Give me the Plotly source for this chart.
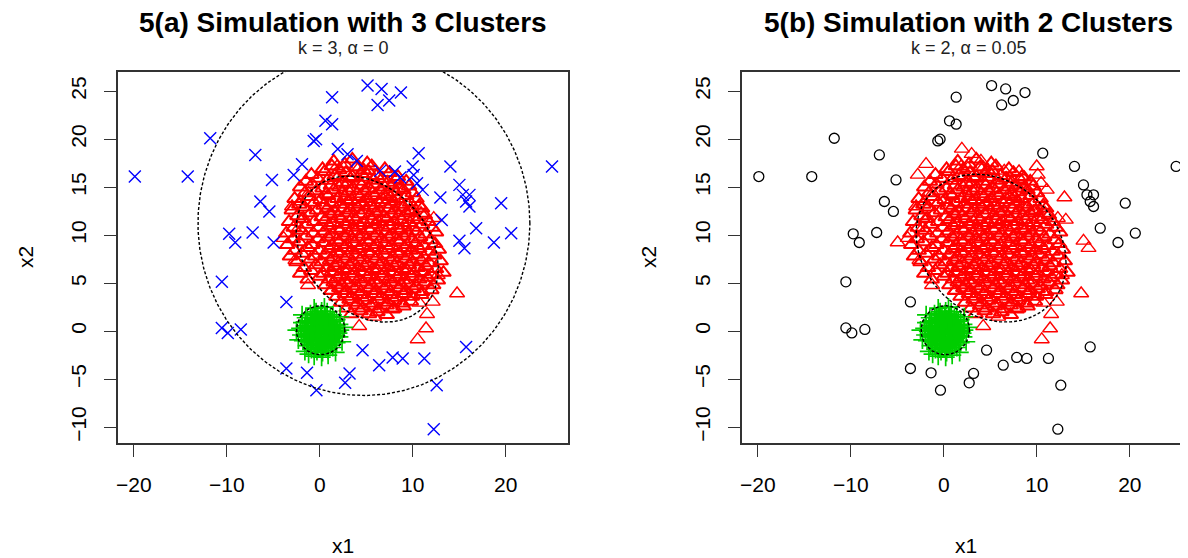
import numpy as np
import plotly.graph_objects as go

# ---------------- data ----------------
# points of cluster 3 in (a) that are trimmed (black circles) in (b)
out_x = [-19.89, -14.20, -11.78, -6.93, -5.14, -6.39, -5.42, -9.74, -9.09, -7.22,
         -0.65, -0.40, 0.61, 1.33, 1.33, 5.14, 6.65, 6.22, 7.47, 8.73,
         10.64, 14.05, 15.02, 15.39, 16.10, 15.74, 16.10, 16.82, 19.51, 20.59,
         18.73, 24.98, -10.53, -3.59, -10.53, -9.89, -8.49, -3.59, -1.37, -0.36,
         2.73, 3.20, 4.60, 6.39, 7.84, 8.92, 11.25, 15.74, 12.58, 12.26]
out_y = [16.11, 16.11, 20.10, 18.36, 15.76, 13.51, 12.47, 10.14, 9.24, 10.28,
         19.82, 20.00, 21.91, 21.56, 24.38, 25.59, 25.24, 23.57, 24.03, 24.86,
         18.54, 17.16, 15.24, 14.20, 14.20, 13.51, 12.99, 10.73, 13.33, 10.21,
         9.24, 17.16, 5.14, 3.05, 0.34, -0.18, 0.18, -3.89, -4.34, -6.15,
         -5.38, -4.40, -1.98, -3.54, -2.74, -2.84, -2.84, -1.64, -5.63, -10.21]

# points of cluster 3 in (a) that join the red cluster in (b)
near_x = [-4.96, -2.80, -1.91, 1.94, 2.99, 3.99, 6.50, 8.09, 8.66, 9.99,
          10.10, 10.46, 11.07, 12.97, 13.12, 15.02, 15.56]
near_y = [9.24, 16.28, 17.40, 18.99, 18.44, 17.74, 16.70, 16.64, 16.01, 17.16,
          16.28, 15.42, 14.72, 13.93, 11.59, 9.41, 8.65]

# red cluster: dense core
red_x = [1.5, 2.7, 3.5, 5.1,
         0.3, 1.3, 2.1, 3.9, 4.7, 5.6, 7.0,
         -0.9, 0.5, 1.6, 2.8, 3.5, 4.5, 5.2, 6.1, 7.5, 8.4,
         -1.5, -0.2, 0.8, 1.9, 2.4, 3.3, 4.2, 4.8, 5.8, 6.7, 7.3, 8.2, 9.3,
         -2.1, -0.8, 0.3, 1.2, 2.1, 2.9, 3.6, 4.5, 5.3, 6.0, 7.0, 7.8, 8.6, 9.6,
         -1.6, -0.4, 0.7, 1.5, 2.4, 3.1, 4.0, 4.8, 5.7, 6.5, 7.3, 8.1, 9.0, 10.0,
         -2.7, -1.2, 0.1, 0.9, 1.9, 2.7, 3.4, 4.3, 5.1, 5.9, 6.8, 7.6, 8.4, 9.3, 10.4,
         -2.2, -0.6, 0.4, 1.3, 2.2, 3.0, 3.8, 4.6, 5.5, 6.3, 7.0, 7.9, 8.8, 9.7, 10.7,
         -3.0, -1.7, -0.3, 0.8, 1.6, 2.5, 3.3, 4.1, 4.9, 5.8, 6.5, 7.4, 8.1, 9.0, 9.9, 11.0,
         -2.4, -1.0, 0.2, 1.1, 2.0, 2.9, 3.6, 4.4, 5.3, 6.0, 6.9, 7.7, 8.5, 9.3, 10.2, 11.3,
         -3.3, -1.9, -0.6, 0.6, 1.5, 2.3, 3.2, 3.9, 4.8, 5.6, 6.3, 7.2, 8.0, 8.8, 9.7, 10.5, 11.7,
         -2.8, -1.4, -0.1, 1.0, 1.9, 2.7, 3.6, 4.3, 5.2, 5.9, 6.8, 7.5, 8.4, 9.1, 10.0, 11.0, 12.1,
         -3.6, -2.0, -0.7, 0.5, 1.4, 2.2, 3.1, 3.8, 4.7, 5.4, 6.2, 7.1, 7.8, 8.7, 9.5, 10.4, 11.4, 12.5,
         -2.9, -1.5, -0.2, 0.9, 1.8, 2.6, 3.5, 4.2, 5.0, 5.9, 6.6, 7.4, 8.3, 9.0, 9.9, 10.8, 11.9,
         -3.5, -2.2, -0.8, 0.4, 1.3, 2.1, 2.9, 3.7, 4.6, 5.3, 6.1, 7.0, 7.7, 8.6, 9.4, 10.3, 11.2, 12.4,
         -2.7, -1.3, 0.0, 1.0, 1.8, 2.7, 3.4, 4.2, 5.1, 5.8, 6.7, 7.4, 8.2, 9.1, 9.8, 10.7, 11.7, 12.8,
         -3.2, -1.9, -0.5, 0.6, 1.5, 2.2, 3.0, 3.9, 4.6, 5.5, 6.2, 7.0, 7.9, 8.6, 9.5, 10.3, 11.2, 12.3,
         -2.5, -1.0, 0.2, 1.1, 2.0, 2.7, 3.6, 4.3, 5.1, 6.0, 6.7, 7.6, 8.3, 9.2, 10.0, 10.9, 11.8, 13.0,
         -1.7, -0.4, 0.8, 1.6, 2.5, 3.2, 4.1, 4.8, 5.7, 6.4, 7.3, 8.0, 8.9, 9.6, 10.5, 11.4, 12.5,
         -2.1, -0.9, 0.4, 1.3, 2.1, 3.0, 3.7, 4.6, 5.3, 6.2, 6.9, 7.8, 8.5, 9.4, 10.1, 11.0, 12.0, 13.3,
         -1.3, 0.0, 1.0, 1.9, 2.6, 3.5, 4.2, 5.1, 5.8, 6.7, 7.4, 8.3, 9.0, 9.9, 10.7, 11.6, 12.7,
         0.6, 1.5, 2.4, 3.1, 4.0, 4.7, 5.6, 6.3, 7.2, 7.9, 8.8, 9.5, 10.4, 11.3, 12.2,
         1.2, 2.1, 2.8, 3.7, 4.4, 5.3, 6.0, 6.9, 7.6, 8.5, 9.2, 10.1, 11.0, 12.0,
         1.8, 2.7, 3.4, 4.3, 5.0, 5.9, 6.6, 7.5, 8.2, 9.1, 9.9, 10.9,
         2.3, 3.2, 4.1, 4.8, 5.7, 6.4, 7.3, 8.0, 8.9, 9.8,
         2.9, 3.9, 4.6, 5.5, 6.3, 7.2, 8.0, 9.0,
         3.4, 4.4, 5.3, 6.2, 7.2]
red_y = [17.7, 17.4, 17.9, 17.5,
         16.9, 17.2, 16.8, 17.1, 16.8, 17.2, 16.9,
         16.3, 16.6, 16.2, 16.5, 16.1, 16.4, 16.7, 16.2, 16.5, 16.1,
         15.6, 15.9, 15.7, 16.0, 15.5, 15.9, 15.6, 16.0, 15.7, 15.9, 15.5, 15.8, 15.6,
         15.0, 15.3, 14.9, 15.2, 15.0, 15.3, 14.9, 15.2, 14.9, 15.3, 15.0, 15.2, 14.9, 15.1,
         14.4, 14.6, 14.3, 14.7, 14.4, 14.6, 14.3, 14.6, 14.4, 14.7, 14.3, 14.5, 14.7, 14.4,
         13.8, 14.0, 13.7, 14.1, 13.8, 14.0, 13.7, 14.0, 13.8, 14.1, 13.7, 14.0, 13.8, 14.1, 13.8,
         13.2, 13.4, 13.1, 13.4, 13.2, 13.5, 13.2, 13.4, 13.1, 13.4, 13.2, 13.5, 13.2, 13.4, 13.1,
         12.6, 12.9, 12.6, 12.8, 12.5, 12.8, 12.6, 12.9, 12.6, 12.8, 12.5, 12.8, 12.6, 12.9, 12.6, 12.8,
         12.0, 12.3, 11.9, 12.2, 12.0, 12.3, 11.9, 12.2, 12.0, 12.3, 11.9, 12.2, 12.0, 12.3, 11.9, 12.1,
         11.4, 11.7, 11.4, 11.6, 11.3, 11.7, 11.4, 11.6, 11.3, 11.6, 11.4, 11.7, 11.4, 11.6, 11.3, 11.6, 11.4,
         10.8, 11.1, 10.8, 11.0, 10.7, 11.1, 10.8, 11.0, 10.7, 11.1, 10.8, 11.0, 10.7, 11.0, 10.8, 11.1, 10.8,
         10.2, 10.5, 10.2, 10.4, 10.1, 10.5, 10.2, 10.4, 10.1, 10.5, 10.2, 10.4, 10.1, 10.5, 10.2, 10.4, 10.1, 10.3,
         9.6, 9.9, 9.6, 9.8, 9.5, 9.9, 9.6, 9.8, 9.5, 9.9, 9.6, 9.8, 9.5, 9.9, 9.6, 9.8, 9.5,
         9.0, 9.3, 9.0, 9.2, 8.9, 9.3, 9.0, 9.2, 8.9, 9.3, 9.0, 9.2, 8.9, 9.3, 9.0, 9.2, 8.9, 9.1,
         8.4, 8.7, 8.4, 8.6, 8.3, 8.7, 8.4, 8.6, 8.3, 8.7, 8.4, 8.6, 8.3, 8.7, 8.4, 8.6, 8.3, 8.5,
         7.8, 8.1, 7.8, 8.0, 7.7, 8.1, 7.8, 8.0, 7.7, 8.1, 7.8, 8.0, 7.7, 8.1, 7.8, 8.0, 7.7, 7.9,
         7.2, 7.5, 7.2, 7.4, 7.1, 7.5, 7.2, 7.4, 7.1, 7.5, 7.2, 7.4, 7.1, 7.5, 7.2, 7.4, 7.1, 7.3,
         6.6, 6.9, 6.6, 6.8, 6.5, 6.9, 6.6, 6.8, 6.5, 6.9, 6.6, 6.8, 6.5, 6.9, 6.6, 6.8, 6.5,
         6.0, 6.3, 6.0, 6.2, 5.9, 6.3, 6.0, 6.2, 5.9, 6.3, 6.0, 6.2, 5.9, 6.3, 6.0, 6.2, 5.9, 6.1,
         5.4, 5.7, 5.4, 5.6, 5.3, 5.7, 5.4, 5.6, 5.3, 5.7, 5.4, 5.6, 5.3, 5.7, 5.4, 5.6, 5.3,
         4.8, 5.1, 4.8, 5.0, 4.7, 5.1, 4.8, 5.0, 4.7, 5.1, 4.8, 5.0, 4.7, 5.1, 4.8,
         4.2, 4.5, 4.2, 4.4, 4.1, 4.5, 4.2, 4.4, 4.1, 4.5, 4.2, 4.4, 4.1, 4.3,
         3.6, 3.9, 3.6, 3.8, 3.5, 3.9, 3.6, 3.8, 3.5, 3.9, 3.6, 3.8,
         3.0, 3.3, 3.0, 3.2, 2.9, 3.3, 3.0, 3.2, 2.9, 3.1,
         2.4, 2.7, 2.4, 2.6, 2.3, 2.7, 2.4, 2.6,
         1.8, 2.1, 1.8, 2.0, 1.7]

# red cluster: scattered members around the core
redp_x = [-3.88, -2.98, -2.08, -1.19, -1.73, -2.26, 0.97, 1.87, 2.59, -1.26,
          -2.62, 1.33, 14.77, 4.24, 5.85, 7.84, 10.71, 12.15, 11.54, 11.43,
          10.53, 12.69, 4.24, 6.93, 9.63, 10.89, 12.26]
redp_y = [9.69, 12.99, 13.51, 14.38, 11.77, 10.73, 15.94, 17.16, 16.98, 4.79,
          7.40, 4.27, 3.93, 0.52, 1.49, 2.26, 2.95, 3.05, 1.77, 0.28,
          -0.86, 5.83, 17.05, 14.20, 12.47, 12.29, 11.77]

# green cluster (around the origin)
green_x = [0.1, 0.4, -0.3, 0.2, -0.2,
           0.7, 0.5, 0.0, -0.5, -0.6, -0.4, 0.1, 0.6,
           1.1, 0.9, 0.5, -0.1, -0.6, -1.0, -1.0, -0.7, -0.2, 0.4, 0.9, 1.2,
           1.5, 1.4, 1.1, 0.6, 0.1, -0.5, -0.9, -1.3, -1.4, -1.3, -1.0, -0.5, 0.1, 0.7, 1.1, 1.4,
           1.9, 1.8, 1.55, 1.15, 0.65, 0.1, -0.45, -0.95, -1.35, -1.6, -1.7, -1.6, -1.35, -0.95,
           -0.45, 0.1, 0.65, 1.15, 1.55, 1.8,
           2.2, 2.1, 1.8, 1.4, 0.8, 0.2, -0.4, -1.0, -1.5, -1.9, -2.1, -2.0, -1.8, -1.4, -0.9,
           -0.3, 0.3, 0.9, 1.4, 1.8, 2.1, 2.0,
           -2.5, -2.3, -1.6, -0.6, 0.2, 0.9, 1.7, 2.4, 2.6, 2.2, 0.5, -0.6, -1.9, -1.2,
           0.85, 0.3, -0.35, -0.8, -0.75, -0.2, 0.45, 0.85,
           1.25, 0.85, 0.3, -0.3, -0.85, -1.2, -1.15, -0.8, -0.15, 0.55, 1.1, 1.3,
           1.65, 1.3, 0.8, -0.2, -0.75, -1.5, -1.55, -1.2, -0.2, 0.45, 1.3, 1.7]
green_y = [0.0, 0.3, 0.2, -0.4, -0.3,
           0.1, 0.6, 0.7, 0.5, -0.1, -0.6, -0.7, -0.4,
           0.2, 0.7, 1.0, 1.1, 0.9, 0.4, -0.3, -0.8, -1.1, -1.0, -0.7, -0.2,
           0.0, 0.6, 1.0, 1.4, 1.5, 1.4, 1.1, 0.6, 0.0, -0.6, -1.1, -1.4, -1.5, -1.3, -1.0, -0.5,
           0.0, 0.55, 1.05, 1.45, 1.7, 1.8, 1.7, 1.45, 1.05, 0.55, 0.0, -0.55, -1.05, -1.45,
           -1.7, -1.8, -1.7, -1.45, -1.05, -0.55,
           0.1, 0.7, 1.2, 1.7, 2.0, 2.1, 2.0, 1.8, 1.4, 0.9, 0.3, -0.4, -1.0, -1.5, -1.9,
           -2.1, -2.2, -2.0, -1.7, -1.2, -0.6, -0.2,
           0.1, -0.9, -2.1, -2.6, -2.7, -2.5, -2.2, -1.1, 0.4, 1.5, 2.5, 2.4, 1.7, -2.4,
           0.45, 0.85, 0.8, 0.25, -0.45, -0.85, -0.8, -0.2,
           0.45, 0.95, 1.25, 1.25, 0.85, 0.25, -0.45, -1.0, -1.3, -1.2, -0.75, -0.05,
           0.3, 1.0, 1.45, 1.65, 1.4, 0.35, -0.3, -1.1, -1.7, -1.6, -1.2, -0.2]

# dotted concentration ellipses: centre x, centre y, var x, var y, cov xy
ell_a = [(4.75, 11.25, 17.85 ** 2, 17.95 ** 2, 0.0),
         (5.1, 8.55, 58.5, 57.8, -15.2),
         (0.1, 0.1, 2.6 ** 2, 2.55 ** 2, 0.0)]
ell_b = [(5.08, 8.65, 65.0, 59.3, -12.3),
         (0.16, 0.1, 2.6 ** 2, 2.55 ** 2, 0.0)]

x_ticks = [-20, -10, 0, 10, 20]
y_ticks = [-10, -5, 0, 5, 10, 15, 20, 25]

titles = ["<b>5(a) Simulation with 3 Clusters</b>", "<b>5(b) Simulation with 2 Clusters</b>"]
subtitles = ["k = 3, \u03b1 = 0", "k = 2, \u03b1 = 0.05"]

# ---------------- styling ----------------
W, H = 1188, 558
OFF = 8                       # page body margin of the html page
L_LEFT, L_RIGHT = 118 - OFF, 568 - OFF
R_LEFT = 742 - OFF
TOP, BOT = 72 - OFF, 443 - OFF
PX_PER_UNIT = 9.30
FONT = "Liberation Sans, Arial, sans-serif"
RED, GREEN, BLUE = "#FF0000", "#00CD00", "#0000FF"


def ellipse(c):
    cx, cy, sxx, syy, sxy = c
    L = np.linalg.cholesky(np.array([[sxx, sxy], [sxy, syy]]))
    t = np.linspace(0, 2 * np.pi, 400)
    p = L @ np.vstack([np.cos(t), np.sin(t)])
    return cx + p[0], cy + p[1]


fig = go.Figure()


def pts(x, y, xa, ya, symbol, color, size, lw):
    fig.add_trace(go.Scatter(x=x, y=y, xaxis=xa, yaxis=ya, mode="markers",
                             marker=dict(symbol=symbol, size=size, color=color,
                                         line=dict(width=lw, color=color)),
                             hoverinfo="skip"))


# panel (a)
pts(red_x, red_y, "x", "y", "triangle-up-open", RED, 13, 2.0)
pts(redp_x, redp_y, "x", "y", "triangle-up-open", RED, 13, 1.4)
pts(green_x, green_y, "x", "y", "cross-thin-open", GREEN, 13, 1.7)
pts(out_x + near_x, out_y + near_y, "x", "y", "x-thin-open", BLUE, 12, 1.4)
for c in ell_a:
    ex, ey = ellipse(c)
    fig.add_trace(go.Scatter(x=ex, y=ey, xaxis="x", yaxis="y", mode="lines",
                             line=dict(color="black", width=1.4, dash="3px,2px"),
                             hoverinfo="skip"))

# panel (b)
pts(red_x, red_y, "x2", "y2", "triangle-up-open", RED, 13, 2.0)
pts(redp_x + near_x, redp_y + near_y, "x2", "y2", "triangle-up-open", RED, 13, 1.4)
pts(green_x, green_y, "x2", "y2", "cross-thin-open", GREEN, 13, 1.7)
pts(out_x, out_y, "x2", "y2", "circle-open", "black", 10, 1.3)
for c in ell_b:
    ex, ey = ellipse(c)
    fig.add_trace(go.Scatter(x=ex, y=ey, xaxis="x2", yaxis="y2", mode="lines",
                             line=dict(color="black", width=1.4, dash="3px,2px"),
                             hoverinfo="skip"))

axis_common = dict(showgrid=False, zeroline=False, showline=True, linecolor="#333333",
                   linewidth=1.5, ticks="outside", ticklen=12, tickwidth=1.3,
                   tickcolor="#333333", tickfont=dict(family=FONT, size=21, color="black"),
                   ticklabelstandoff=10, automargin=False)

fig.update_layout(
    template="none",
    width=W, height=H, showlegend=False,
    paper_bgcolor="white", plot_bgcolor="white",
    margin=dict(l=0, r=0, t=TOP, b=H - BOT, pad=0),
    xaxis=dict(domain=[L_LEFT / W, L_RIGHT / W], range=[-21.7, 26.7], tickvals=x_ticks,
               anchor="y", mirror=True, **axis_common),
    yaxis=dict(domain=[0, 1], range=[-11.65, 27.0], tickvals=y_ticks, tickangle=-90,
               anchor="x", mirror=True, **axis_common),
    xaxis2=dict(domain=[R_LEFT / W, 1.0], range=[-21.7, -21.7 + (W - R_LEFT) / PX_PER_UNIT],
                tickvals=x_ticks, anchor="y2", mirror=True, **axis_common),
    yaxis2=dict(domain=[0, 1], range=[-11.65, 27.0], tickvals=y_ticks, tickangle=-90,
                anchor="x2", mirror=False, **axis_common),
)


def py2paper(py):
    return (BOT - (py - OFF)) / (BOT - TOP)


def px2paper(px):
    return (px - OFF) / W


centers = [(118 + 568) / 2, 968]
xlab_x = [(118 + 568) / 2, 966]
ylab_x = [25, 648]
ann = []
for i in range(2):
    ann.append(dict(text=titles[i], x=px2paper(centers[i]), y=py2paper(22), xref="paper", yref="paper",
                    showarrow=False, xanchor="center", yanchor="middle",
                    font=dict(family=FONT, size=28, color="black")))
    ann.append(dict(text=subtitles[i], x=px2paper(centers[i]), y=py2paper(48), xref="paper", yref="paper",
                    showarrow=False, xanchor="center", yanchor="middle",
                    font=dict(family=FONT, size=18, color="#222222")))
    ann.append(dict(text="x1", x=px2paper(xlab_x[i]), y=py2paper(545), xref="paper", yref="paper",
                    showarrow=False, xanchor="center", yanchor="middle",
                    font=dict(family=FONT, size=21, color="black")))
    ann.append(dict(text="x2", x=px2paper(ylab_x[i]), y=py2paper(257), xref="paper", yref="paper",
                    showarrow=False, xanchor="center", yanchor="middle", textangle=-90,
                    font=dict(family=FONT, size=21, color="black")))
fig.update_layout(annotations=ann)

fig.write_html("out.html")
